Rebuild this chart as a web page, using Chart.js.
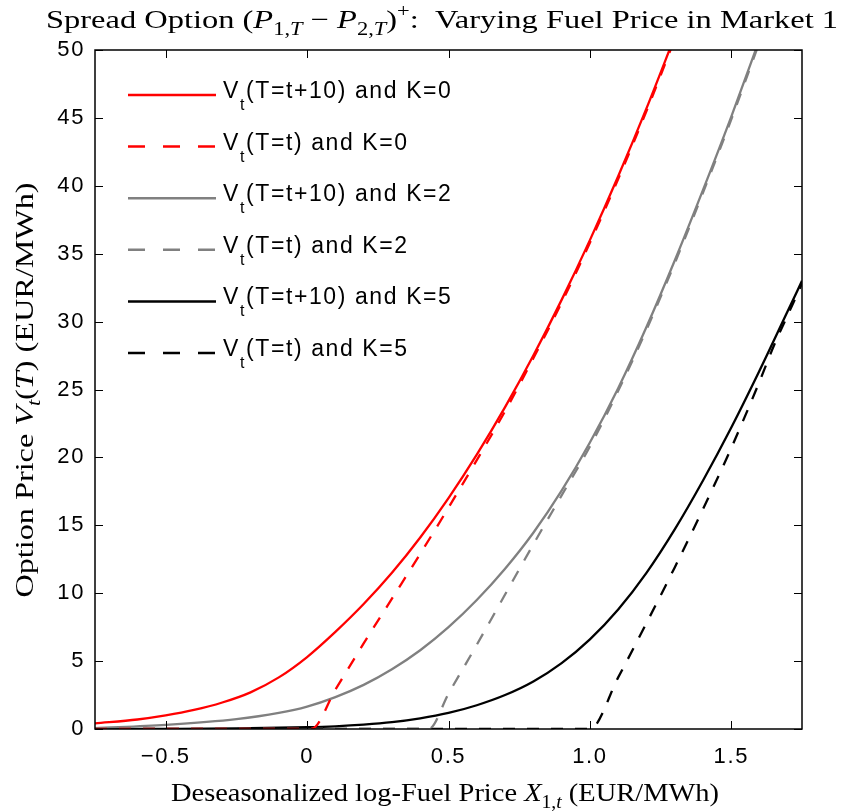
<!DOCTYPE html>
<html>
<head>
<meta charset="utf-8">
<script src="https://cdn.jsdelivr.net/npm/chart.js@4.4.1/dist/chart.umd.min.js"></script>
<style>
  html, body { margin: 0; padding: 0; background: #fff; }
  canvas { display: block; }
</style>
</head>
<body>
<canvas id="chart" width="842" height="811"></canvas>
<script>
// x = deseasonalized log-fuel price, y = option price
const redSolidX = [-0.75, -0.6, -0.5, -0.4, -0.3, -0.2, -0.1, 0, 0.1, 0.2, 0.3, 0.4, 0.5, 0.6, 0.7, 0.8, 0.9, 1.0, 1.1, 1.2, 1.3];
const redSolidY = [0.42, 0.7, 1.0, 1.4, 1.95, 2.7, 3.8, 5.3, 7.15, 9.2, 11.5, 14.1, 17.0, 20.2, 23.7, 27.5, 31.6, 36.0, 40.7, 45.7, 51.0];

const redDashX = [-0.75, 0.015, 0.1, 0.2, 0.3, 0.4, 0.5, 0.6, 0.7, 0.8, 0.9, 1.0, 1.1, 1.2, 1.3];
const redDashY = [0, 0, 2.9, 6.3, 9.6, 12.9, 16.3, 19.8, 23.4, 27.3, 31.4, 35.8, 40.5, 45.5, 50.8];

const graySolidX = [-0.75, -0.5, -0.25, -0.1, 0, 0.1, 0.2, 0.3, 0.4, 0.5, 0.6, 0.7, 0.8, 0.9, 1.0, 1.1, 1.2, 1.3, 1.4, 1.5, 1.6];
const graySolidY = [0.06, 0.3, 0.72, 1.18, 1.65, 2.35, 3.25, 4.4, 5.8, 7.5, 9.5, 11.8, 14.45, 17.55, 21.1, 25.1, 29.6, 34.5, 39.7, 45.1, 50.8];

const grayDashX = [-0.75, 0.43, 0.5, 0.6, 0.7, 0.8, 0.9, 1.0, 1.1, 1.2, 1.3, 1.4, 1.5, 1.6];
const grayDashY = [0, 0, 2.6, 6.2, 9.9, 13.6, 17.2, 20.8, 24.9, 29.4, 34.3, 39.5, 44.9, 50.6];

const blackSolidX = [-0.75, -0.5, -0.25, 0, 0.1, 0.2, 0.3, 0.4, 0.5, 0.6, 0.7, 0.8, 0.9, 1.0, 1.1, 1.2, 1.3, 1.4, 1.5, 1.6, 1.7, 1.75];
const blackSolidY = [0, 0.01, 0.04, 0.13, 0.2, 0.32, 0.5, 0.78, 1.18, 1.75, 2.5, 3.5, 4.85, 6.6, 8.8, 11.5, 14.7, 18.3, 22.2, 26.4, 30.8, 33.0];

const blackDashX = [-0.75, 1.0, 1.1, 1.2, 1.3, 1.4, 1.5, 1.6, 1.65, 1.7, 1.75];
const blackDashY = [0, 0, 3.8, 7.8, 11.9, 16.2, 20.7, 25.6, 28.2, 30.5, 32.8];

const xTicks = [-0.5, 0, 0.5, 1, 1.5];
const xTickLabels = ['\u22120.5', '0', '0.5', '1.0', '1.5'];
const yTicks = [0, 5, 10, 15, 20, 25, 30, 35, 40, 45, 50];

const legendText = ['(T=t+10) and K=0', '(T=t) and K=0', '(T=t+10) and K=2', '(T=t) and K=2', '(T=t+10) and K=5', '(T=t) and K=5'];

const pts = (xs, ys) => xs.map((x, i) => ({ x: x, y: ys[i] }));

const SANS = '"Liberation Sans", Arial, sans-serif';
const SERIF = '"Liberation Serif", "Times New Roman", serif';

function line(ctx, x1, y1, x2, y2) {
  ctx.beginPath();
  ctx.moveTo(x1, y1);
  ctx.lineTo(x2, y2);
  ctx.stroke();
}

// runs: [text, italic, level]  level -1 = subscript, 1 = superscript
// text is stretched sideways to the given width (the original uses a wide TeX font)
function drawRuns(ctx, runs, x, y, size, width) {
  const fontFor = r => (r[1] ? 'italic ' : '') + (r[2] ? Math.round(size * 0.7) : size) + 'px ' + SERIF;
  let w = 0;
  runs.forEach(r => { ctx.font = fontFor(r); w += ctx.measureText(r[0]).width; });
  ctx.save();
  ctx.translate(x - width / 2, y);
  ctx.scale(width / w, 1);
  let cx = 0;
  runs.forEach(r => {
    ctx.font = fontFor(r);
    const dy = r[2] === -1 ? size * 0.28 : (r[2] === 1 ? -size * 0.42 : 0);
    ctx.fillText(r[0], cx, dy);
    cx += ctx.measureText(r[0]).width;
  });
  ctx.restore();
}

const titleRuns = [['Spread Option (', 0, 0], ['P', 1, 0], ['1,', 0, -1], ['T', 1, -1], [' \u2212 ', 0, 0], ['P', 1, 0], ['2,', 0, -1], ['T', 1, -1], [')', 0, 0], ['+', 0, 1], [':  Varying Fuel Price in Market 1', 0, 0]];
const xTitleRuns = [['Deseasonalized log-Fuel Price ', 0, 0], ['X', 1, 0], ['1,', 0, -1], ['t', 1, -1], [' (EUR/MWh)', 0, 0]];
const yTitleRuns = [['Option Price ', 0, 0], ['V', 1, 0], ['t', 1, -1], ['(', 0, 0], ['T', 1, 0], [')', 0, 0], [' (EUR/MWh)', 0, 0]];

const framePlugin = {
  id: 'frame',
  beforeDraw(chart) {
    chart.ctx.letterSpacing = '1.6px';
  },
  afterDraw(chart) {
    const ctx = chart.ctx;
    const a = chart.chartArea;
    const xs = chart.scales.x, ys = chart.scales.y;
    ctx.save();
    ctx.strokeStyle = '#000';
    ctx.lineWidth = 1;
    ctx.setLineDash([]);
    xTicks.forEach(v => {
      const px = Math.round(xs.getPixelForValue(v)) + 0.5;
      line(ctx, px, a.bottom, px, a.bottom - 8);
      line(ctx, px, a.top, px, a.top + 8);
    });
    yTicks.forEach(v => {
      const py = Math.round(ys.getPixelForValue(v)) + 0.5;
      line(ctx, a.left, py, a.left + 8, py);
      line(ctx, a.right, py, a.right - 8, py);
    });
    ctx.lineWidth = 1.5;
    ctx.strokeRect(a.left, a.top, a.right - a.left, a.bottom - a.top);

    // legend
    chart.data.datasets.forEach((ds, i) => {
      const ly = a.top + 45 + i * 51.6;
      ctx.strokeStyle = ds.borderColor;
      ctx.lineWidth = 2.5;
      ctx.setLineDash(ds.borderDash.length ? [17, 18] : []);
      line(ctx, a.left + 33, ly, a.left + 121, ly);
      ctx.setLineDash([]);
      ctx.fillStyle = '#000';
      ctx.textBaseline = 'alphabetic';
      ctx.textAlign = 'left';
      let tx = a.left + 128;
      ctx.font = '23px ' + SANS;
      ctx.fillText('V', tx, ly + 3);
      tx += ctx.measureText('V').width;
      ctx.font = '16px ' + SANS;
      ctx.fillText('t', tx, ly + 15);
      tx += ctx.measureText('t').width;
      ctx.font = '23px ' + SANS;
      ctx.fillText(legendText[i], tx, ly + 3);
    });

    // titles
    ctx.letterSpacing = '0px';
    ctx.fillStyle = '#000';
    ctx.textAlign = 'left';
    ctx.textBaseline = 'alphabetic';
    drawRuns(ctx, titleRuns, 442, 28, 26, 792);
    drawRuns(ctx, xTitleRuns, 445, 801, 26, 548);
    ctx.translate(33, 390);
    ctx.rotate(-Math.PI / 2);
    drawRuns(ctx, yTitleRuns, 0, 0, 26, 415);
    ctx.restore();
  }
};

function series(label, xs, ys, color, dashed) {
  return {
    label: label,
    data: pts(xs, ys),
    borderColor: color,
    borderWidth: 2.3,
    borderDash: dashed ? [12, 12] : [],
    pointRadius: 0,
    cubicInterpolationMode: 'monotone',
    fill: false
  };
}

new Chart(document.getElementById('chart'), {
  type: 'line',
  data: {
    datasets: [
      series('K=0, T=t+10', redSolidX, redSolidY, '#ff0000', false),
      series('K=0, T=t', redDashX, redDashY, '#ff0000', true),
      series('K=2, T=t+10', graySolidX, graySolidY, '#808080', false),
      series('K=2, T=t', grayDashX, grayDashY, '#808080', true),
      series('K=5, T=t+10', blackSolidX, blackSolidY, '#000000', false),
      series('K=5, T=t', blackDashX, blackDashY, '#000000', true)
    ]
  },
  options: {
    responsive: false,
    animation: false,
    devicePixelRatio: 1,
    layout: { padding: { top: 50, right: 40, left: 0, bottom: 0 } },
    plugins: { legend: { display: false }, title: { display: false }, tooltip: { enabled: false } },
    scales: {
      x: {
        type: 'linear',
        min: -0.75,
        max: 1.75,
        grid: { display: false, drawTicks: false },
        border: { display: false },
        afterBuildTicks: s => { s.ticks = xTicks.map(v => ({ value: v })); },
        afterFit: s => { s.height = 82; },
        ticks: {
          padding: 15,
          color: '#000',
          font: { family: SANS, size: 22 },
          maxRotation: 0,
          callback: v => xTickLabels[xTicks.indexOf(v)]
        }
      },
      y: {
        type: 'linear',
        min: 0,
        max: 50,
        grid: { display: false, drawTicks: false },
        border: { display: false },
        afterBuildTicks: s => { s.ticks = yTicks.map(v => ({ value: v })); },
        afterFit: s => { s.width = 95; },
        ticks: {
          padding: 10,
          color: '#000',
          font: { family: SANS, size: 22 },
          callback: v => String(v)
        }
      }
    }
  },
  plugins: [framePlugin]
});
</script>
</body>
</html>
